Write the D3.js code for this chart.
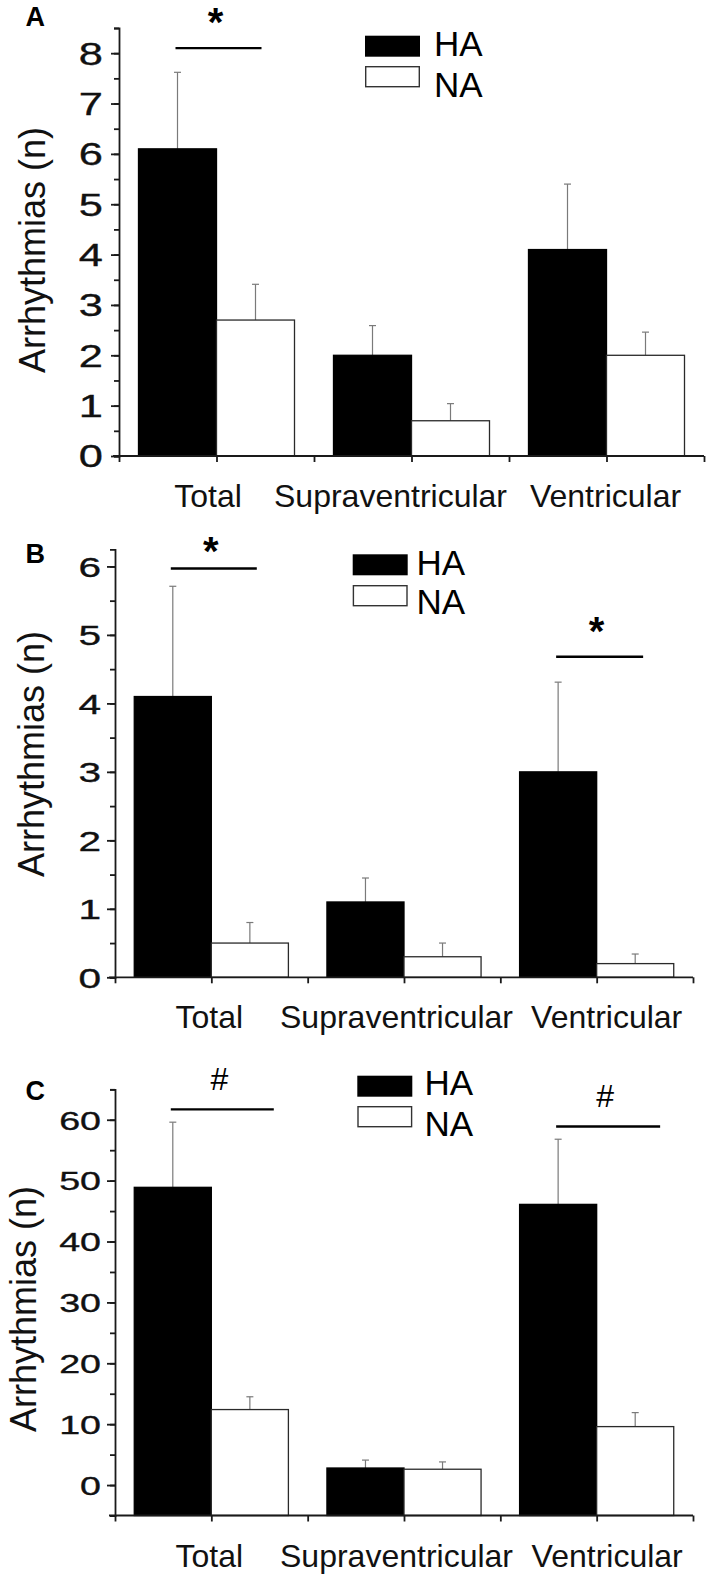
<!DOCTYPE html>
<html>
<head>
<meta charset="utf-8">
<script src="https://cdn.jsdelivr.net/npm/d3@7"></script>
<style>
  html, body { margin: 0; padding: 0; background: #fff; }
  svg { display: block; font-family: "Liberation Sans", Arial, Helvetica, sans-serif; }
</style>
</head>
<body>
<svg id="chart" width="709" height="1578"></svg>
<script>
// ---------------- data ----------------
const categories = ["Total", "Supraventricular", "Ventricular"];
const groups = ["HA", "NA"];

// Panel A
const aHA = [6.1, 2.0, 4.1];
const aHAerr = [1.52, 0.59, 1.3];
const aNA = [2.7, 0.7, 2.0];
const aNAerr = [0.71, 0.34, 0.46];
const aTicks = [0, 1, 2, 3, 4, 5, 6, 7, 8];
const aSig = [{ cat: "Total", sym: "*" }];

// Panel B
const bHA = [4.1, 1.1, 3.0];
const bHAerr = [1.61, 0.35, 1.31];
const bNA = [0.5, 0.3, 0.2];
const bNAerr = [0.3, 0.2, 0.14];
const bTicks = [0, 1, 2, 3, 4, 5, 6];
const bSig = [{ cat: "Total", sym: "*" }, { cat: "Ventricular", sym: "*" }];

// Panel C
const cHA = [48.9, 2.8, 46.1];
const cHAerr = [10.7, 1.3, 10.7];
const cNA = [12.4, 2.6, 9.6];
const cNAerr = [2.1, 1.2, 2.3];
const cTicks = [0, 10, 20, 30, 40, 50, 60];
const cSig = [{ cat: "Total", sym: "#" }, { cat: "Ventricular", sym: "#" }];

const yLabel = "Arrhythmias (n)";

// ---------------- layout ----------------
const panels = [
  {
    letter: "A", HA: aHA, HAerr: aHAerr, NA: aNA, NAerr: aNAerr, ticks: aTicks, sig: aSig,
    xRange: [119, 704], yDomain: [0, 8.5], yRange: [456, 28], minorStep: 0.5,
    tickFont: 31, tickScale: 1.4, tickRight: 103,
    ylab: [45, 250], letterPos: [25.5, 26],
    legend: { x: 365, y1: 35.7, y2: 66, tx: 434, t1: 56.3, t2: 96.8 },
    xLabelDx: [-8.5, -21, -1],
    sigPos: [{ v: 8.1, len: 86, symDy: -12.1 }]
  },
  {
    letter: "B", HA: bHA, HAerr: bHAerr, NA: bNA, NAerr: bNAerr, ticks: bTicks, sig: bSig,
    xRange: [115, 693], yDomain: [0, 6.25], yRange: [977.3, 549.3], minorStep: 0.5,
    tickFont: 28, tickScale: 1.45, tickRight: 101,
    ylab: [43.5, 754], letterPos: [25.5, 563.3],
    legend: { x: 352.7, y1: 554.3, y2: 585, tx: 416.5, t1: 574.7, t2: 614.2 },
    xLabelDx: [-2, -7.5, 10],
    sigPos: [{ v: 5.97, len: 86, symDy: -3.1 }, { v: 4.68, len: 87, symDy: -11.8 }]
  },
  {
    letter: "C", HA: cHA, HAerr: cHAerr, NA: cNA, NAerr: cNAerr, ticks: cTicks, sig: cSig,
    xRange: [115, 693], yDomain: [-5, 65], yRange: [1515.5, 1089.3], minorStep: 5,
    tickFont: 26.5, tickScale: 1.42, tickRight: 101,
    ylab: [36, 1309], letterPos: [25.5, 1099.5],
    legend: { x: 357.3, y1: 1075.7, y2: 1106, tx: 424.5, t1: 1094.7, t2: 1135.8 },
    xLabelDx: [-2, -7.5, 10.5],
    sigPos: [{ v: 61.7, len: 103, symDy: -19 }, { v: 58.9, len: 104, symDy: -19 }]
  }
];

const svg = d3.select("#chart");
const axisColor = "#1a1a1a";

panels.forEach(p => {
  const g = svg.append("g");
  const x0 = d3.scaleBand().domain(categories).range(p.xRange).paddingInner(0.2).paddingOuter(0.1);
  const x1 = d3.scaleBand().domain(groups).range([0, x0.bandwidth()]);
  const y = d3.scaleLinear().domain(p.yDomain).range(p.yRange);
  const xt = d3.scaleLinear().domain([0, categories.length * 2]).range(p.xRange);

  const rows = [];
  categories.forEach((c, i) => {
    rows.push({ cat: c, grp: "HA", v: p.HA[i], e: p.HAerr[i] });
    rows.push({ cat: c, grp: "NA", v: p.NA[i], e: p.NAerr[i] });
  });
  const base = p.yDomain[0] < 0 ? p.yDomain[0] : 0;

  // error bars (drawn first, bars on top)
  const eg = g.append("g").attr("stroke", "#7a7a7a").attr("stroke-width", 1.2);
  rows.forEach(r => {
    const cx = x0(r.cat) + x1(r.grp) + x1.bandwidth() / 2;
    eg.append("line").attr("x1", cx).attr("x2", cx).attr("y1", y(r.v)).attr("y2", y(r.v + r.e));
    eg.append("line").attr("x1", cx - 3.5).attr("x2", cx + 3.5).attr("y1", y(r.v + r.e)).attr("y2", y(r.v + r.e));
  });

  // bars
  g.append("g").selectAll("rect").data(rows).join("rect")
    .attr("x", d => x0(d.cat) + x1(d.grp))
    .attr("width", x1.bandwidth())
    .attr("y", d => y(d.v))
    .attr("height", d => y(base) - y(d.v))
    .attr("fill", d => d.grp === "HA" ? "#000" : "#fff")
    .attr("stroke", d => d.grp === "HA" ? "#000" : "#2a2a2a")
    .attr("stroke-width", 1.3);

  // y axis: minor ticks + domain
  const minor = d3.range(p.yDomain[0], p.yDomain[1] + 1e-9, p.minorStep);
  const yMinor = g.append("g").attr("transform", `translate(${p.xRange[0]},0)`)
    .call(d3.axisLeft(y).tickValues(minor).tickSize(5).tickSizeOuter(5).tickFormat(""));
  const yMajor = g.append("g").attr("transform", `translate(${p.xRange[0]},0)`)
    .call(d3.axisLeft(y).tickValues(p.ticks).tickSize(8).tickFormat(""));
  yMajor.select(".domain").remove();
  [yMinor, yMajor].forEach(a => {
    a.selectAll("line").attr("stroke", axisColor).attr("stroke-width", 1.8);
    a.selectAll("path").attr("stroke", axisColor).attr("stroke-width", 1.8);
  });

  // y tick labels (stretched digits)
  g.append("g").selectAll("text").data(p.ticks).join("text")
    .attr("transform", d => `translate(${p.tickRight},${y(d)}) scale(${p.tickScale},1)`)
    .attr("text-anchor", "end")
    .attr("dy", "0.37em")
    .attr("font-size", p.tickFont)
    .attr("fill", "#111")
    .attr("stroke", "#111")
    .attr("stroke-width", 0.35)
    .text(d => d);

  // x axis
  const xAxisY = y(p.yDomain[0]);
  const xa = g.append("g").attr("transform", `translate(0,${xAxisY})`)
    .call(d3.axisBottom(xt).tickValues(d3.range(0, categories.length * 2 + 1)).tickSize(6).tickSizeOuter(0).tickFormat(""));
  xa.select(".domain").remove();
  xa.selectAll("line").attr("stroke", axisColor).attr("stroke-width", 1.8);
  g.append("line").attr("x1", p.xRange[0] - 6).attr("x2", p.xRange[1])
    .attr("y1", xAxisY).attr("y2", xAxisY).attr("stroke", axisColor).attr("stroke-width", 1.8);

  // x category labels
  g.append("g").selectAll("text").data(categories).join("text")
    .attr("x", (d, i) => x0(d) + x0.bandwidth() / 2 + p.xLabelDx[i])
    .attr("y", xAxisY + 51)
    .attr("text-anchor", "middle")
    .attr("font-size", 32)
    .attr("fill", "#111")
    .text(d => d);

  // y label
  g.append("text")
    .attr("transform", `translate(${p.ylab[0]},${p.ylab[1]}) rotate(-90)`)
    .attr("text-anchor", "middle")
    .attr("font-size", 36)
    .attr("fill", "#111")
    .text(yLabel);

  // panel letter
  g.append("text")
    .attr("x", p.letterPos[0]).attr("y", p.letterPos[1])
    .attr("font-size", 27).attr("font-weight", "bold").attr("fill", "#000")
    .text(p.letter);

  // legend
  const L = p.legend;
  g.append("rect").attr("x", L.x).attr("y", L.y1).attr("width", 55).attr("height", 21).attr("fill", "#000");
  g.append("rect").attr("x", L.x + 0.7).attr("y", L.y2 + 0.7).attr("width", 53.6).attr("height", 20).attr("fill", "#fff")
    .attr("stroke", "#333").attr("stroke-width", 1.4);
  g.append("text").attr("x", L.tx).attr("y", L.t1).attr("font-size", 35).attr("fill", "#000").text(groups[0]);
  g.append("text").attr("x", L.tx).attr("y", L.t2).attr("font-size", 35).attr("fill", "#000").text(groups[1]);

  // significance markers
  p.sig.forEach((s, i) => {
    const pos = p.sigPos[i];
    const xs = x0(s.cat) + x1("HA") + x1.bandwidth() / 2 - 2;
    const xe = xs + pos.len;
    const ly = y(pos.v);
    g.append("line").attr("x1", xs).attr("x2", xe).attr("y1", ly).attr("y2", ly)
      .attr("stroke", "#000").attr("stroke-width", 2.4);
    g.append("text")
      .attr("x", (xs + xe) / 2 - 3)
      .attr("y", ly + pos.symDy)
      .attr("text-anchor", "middle")
      .attr("font-size", s.sym === "*" ? 40 : 32)
      .attr("font-weight", s.sym === "*" ? "bold" : "normal")
      .attr("fill", "#000")
      .text(s.sym);
  });
});
</script>
</body>
</html>
